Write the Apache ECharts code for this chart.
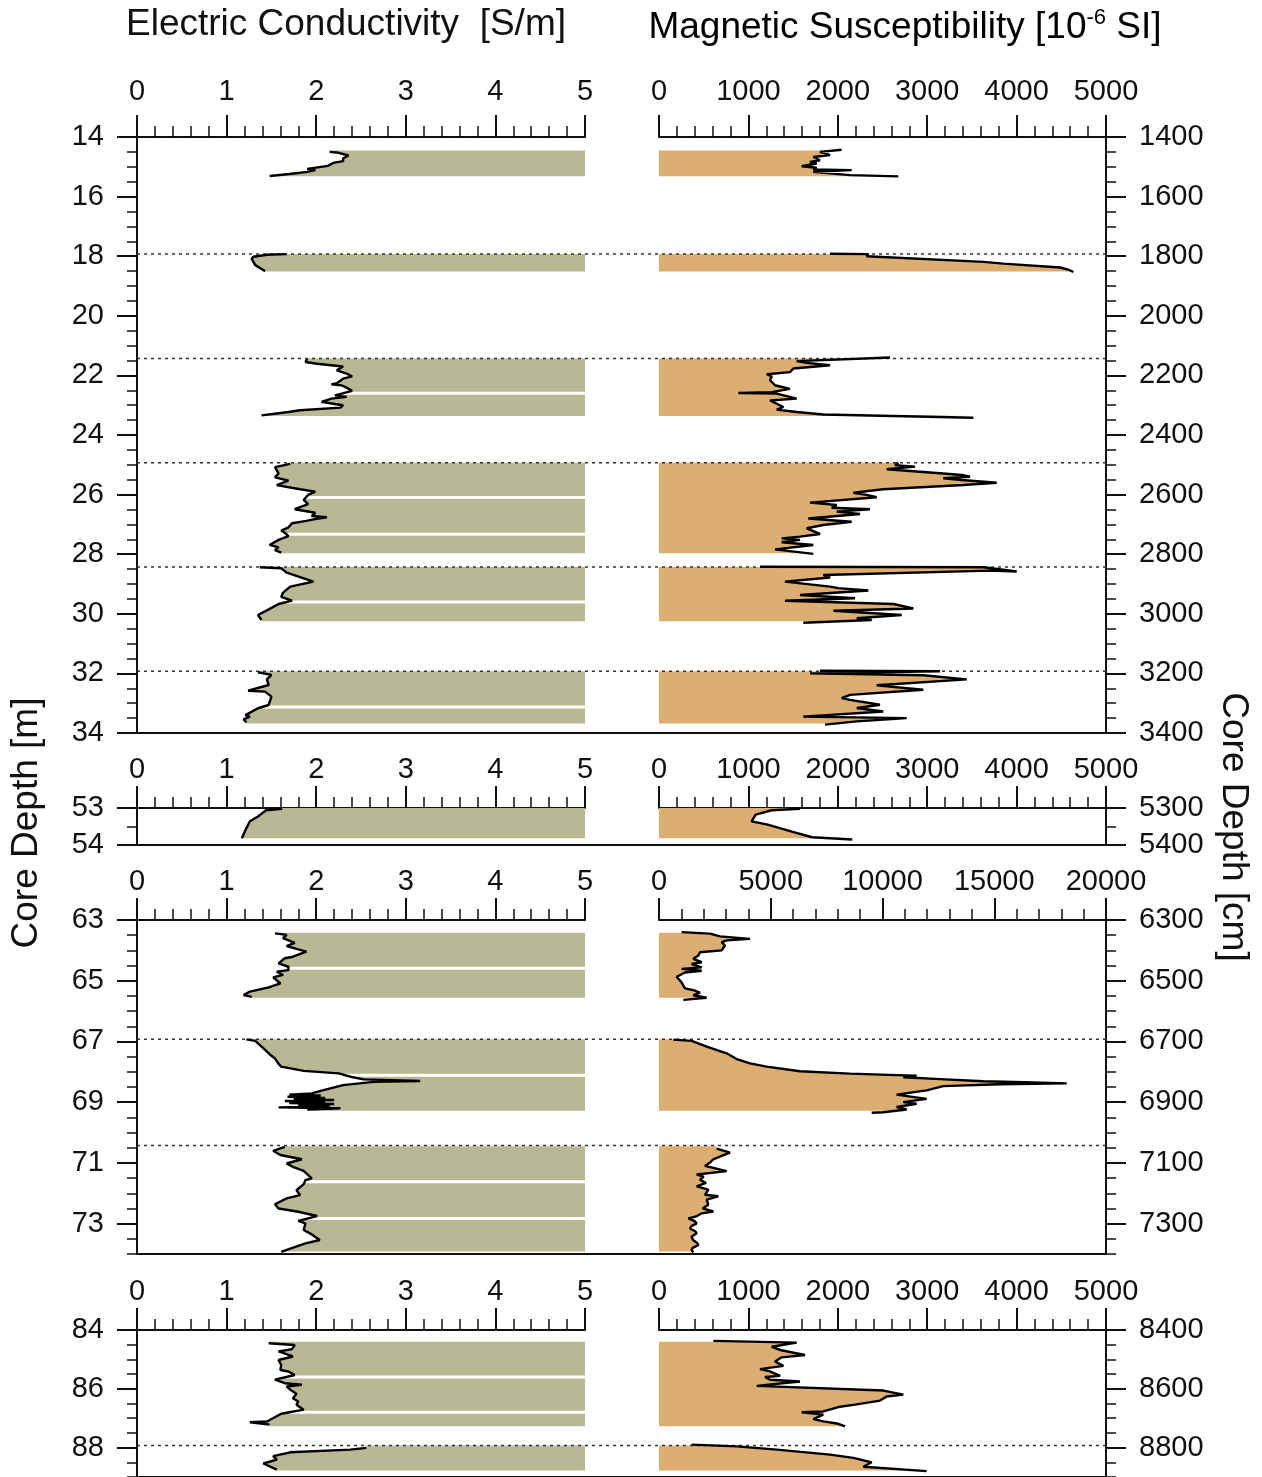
<!DOCTYPE html>
<html>
<head>
<meta charset="utf-8">
<script src="https://cdn.jsdelivr.net/npm/echarts@6/dist/echarts.min.js"></script>
<style>
  html, body { margin: 0; padding: 0; background: #fff; }
  #chart { width: 1262px; height: 1477px; }
</style>
</head>
<body>
<div id="chart"></div>
<script>
// ---------- tick values ----------
const ecTicks = [0, 1, 2, 3, 4, 5];
const msTicks5k = [0, 1000, 2000, 3000, 4000, 5000];
const msTicks20k = [0, 5000, 10000, 15000, 20000];
const depthTicks1 = [14, 16, 18, 20, 22, 24, 26, 28, 30, 32, 34];
const depthTicks2 = [53, 54];
const depthTicks3 = [63, 65, 67, 69, 71, 73];
const depthTicks4 = [84, 86, 88];

// ---------- core sections [top, bottom] in m ----------
const sections1 = [[14.45, 15.32], [17.93, 18.51], [21.43, 23.36], [24.93, 27.97], [28.43, 30.25], [31.93, 33.68]];
const sections2 = [[53.00, 53.82]];
const sections3 = [[63.42, 65.56], [66.93, 69.28], [70.45, 73.92]];
const sections4 = [[84.40, 87.27], [87.93, 88.78]];

// drive boundaries (dotted) and section cuts in the conductivity log (m)
const driveBounds = [17.93, 21.43, 24.93, 28.43, 31.93, 66.93, 70.43, 87.93];
const ecBreaks = [22.60, 26.10, 27.33, 29.60, 33.13, 64.59, 68.11, 71.62, 72.83, 85.60, 86.80];

// ---------- electric conductivity [depth m, S/m] ----------
const ec1a = [[14.50, 2.15], [14.53, 2.25], [14.62, 2.36], [14.72, 2.30], [14.81, 2.30], [14.87, 2.19], [14.97, 2.13], [15.07, 1.90], [15.11, 1.99], [15.17, 1.90], [15.24, 1.70], [15.31, 1.48]];
const ec1b = [[17.93, 1.67], [17.95, 1.45], [18.02, 1.30], [18.09, 1.28], [18.30, 1.32], [18.43, 1.39], [18.50, 1.43]];
const ec1c = [[21.45, 1.90], [21.55, 1.88], [21.61, 2.01], [21.70, 2.30], [21.83, 2.23], [21.94, 2.34], [22.03, 2.40], [22.11, 2.30], [22.26, 2.23], [22.30, 2.17], [22.33, 2.28], [22.41, 2.34], [22.52, 2.40], [22.67, 2.21], [22.72, 2.34], [22.78, 2.17], [22.89, 2.06], [22.95, 2.19], [23.00, 2.30], [23.08, 2.27], [23.17, 1.82], [23.23, 1.69], [23.34, 1.39]];
const ec1d = [[24.97, 1.71], [25.08, 1.54], [25.29, 1.58], [25.42, 1.54], [25.53, 1.69], [25.68, 1.56], [25.82, 1.82], [25.90, 1.99], [26.01, 1.91], [26.18, 1.86], [26.32, 1.91], [26.49, 1.76], [26.61, 1.99], [26.72, 1.95], [26.76, 2.12], [26.83, 1.97], [26.88, 1.89], [26.96, 1.73], [27.10, 1.69], [27.21, 1.61], [27.28, 1.65], [27.39, 1.69], [27.52, 1.58], [27.69, 1.48], [27.77, 1.58], [27.86, 1.54], [27.95, 1.61]];
const ec1e = [[28.44, 1.37], [28.47, 1.61], [28.62, 1.67], [28.92, 1.97], [29.09, 1.71], [29.29, 1.63], [29.43, 1.61], [29.56, 1.73], [29.67, 1.58], [29.85, 1.47], [30.04, 1.35], [30.21, 1.39]];
const ec1f = [[31.96, 1.35], [32.05, 1.50], [32.20, 1.45], [32.39, 1.47], [32.58, 1.24], [32.61, 1.43], [32.78, 1.50], [33.06, 1.47], [33.17, 1.35], [33.40, 1.21], [33.45, 1.26], [33.54, 1.19], [33.65, 1.22]];
const ec2 = [[53.02, 1.62], [53.06, 1.44], [53.23, 1.35], [53.36, 1.26], [53.55, 1.22], [53.82, 1.17]];
const ec3a = [[63.44, 1.54], [63.49, 1.67], [63.60, 1.63], [63.75, 1.76], [63.86, 1.67], [64.04, 1.89], [64.21, 1.74], [64.26, 1.65], [64.43, 1.58], [64.54, 1.69], [64.65, 1.69], [64.70, 1.56], [64.81, 1.63], [64.89, 1.52], [65.09, 1.60], [65.22, 1.47], [65.36, 1.26], [65.47, 1.19], [65.53, 1.28]];
const ec3b = [[66.93, 1.22], [66.98, 1.32], [67.06, 1.35], [67.28, 1.43], [67.42, 1.48], [67.56, 1.54], [67.74, 1.58], [67.83, 1.61], [67.97, 1.86], [68.05, 2.25], [68.18, 2.41], [68.25, 2.53], [68.30, 3.16], [68.33, 2.64], [68.44, 2.30], [68.62, 2.06], [68.71, 1.95], [68.75, 1.70], [68.78, 2.05], [68.82, 1.68], [68.86, 2.10], [68.90, 1.75], [68.93, 2.20], [68.96, 1.65], [69.00, 2.10], [69.03, 1.70], [69.06, 2.20], [69.10, 1.80], [69.13, 2.15], [69.17, 1.58], [69.20, 2.27], [69.24, 1.90]];
const ec3c = [[70.47, 1.65], [70.60, 1.52], [70.74, 1.60], [70.88, 1.84], [71.02, 1.67], [71.13, 1.74], [71.26, 1.86], [71.51, 1.95], [71.57, 1.88], [71.70, 1.86], [71.90, 1.78], [72.06, 1.82], [72.17, 1.67], [72.36, 1.54], [72.50, 1.58], [72.61, 1.80], [72.75, 2.01], [72.91, 1.80], [72.99, 1.88], [73.21, 1.86], [73.32, 1.93], [73.54, 2.04], [73.65, 1.88], [73.82, 1.71], [73.93, 1.61]];
const ec4a = [[84.45, 1.47], [84.51, 1.76], [84.65, 1.73], [84.73, 1.58], [84.90, 1.74], [85.02, 1.58], [85.19, 1.61], [85.36, 1.60], [85.41, 1.69], [85.53, 1.76], [85.69, 1.54], [85.81, 1.65], [85.86, 1.84], [85.92, 1.67], [86.03, 1.71], [86.17, 1.78], [86.32, 1.74], [86.43, 1.80], [86.54, 1.78], [86.71, 1.86], [86.85, 1.61], [87.11, 1.45], [87.14, 1.26], [87.22, 1.48]];
const ec4b = [[88.01, 2.56], [88.07, 2.38], [88.16, 1.71], [88.29, 1.52], [88.41, 1.56], [88.54, 1.41], [88.75, 1.56]];

// ---------- magnetic susceptibility [depth m, 1e-6 SI] ----------
const ms1a = [[14.43, 2043], [14.50, 1801], [14.61, 1913], [14.67, 1726], [14.78, 1801], [14.84, 1689], [14.89, 1764], [14.98, 1596], [15.03, 1764], [15.09, 1726], [15.11, 2155], [15.17, 1726], [15.28, 2137], [15.32, 2677]];
const ms1b = [[17.92, 1913], [17.93, 2342], [18.00, 2323], [18.19, 3628], [18.25, 3851], [18.38, 4486], [18.45, 4579], [18.53, 4635]];
const ms1c = [[21.40, 2584], [21.52, 1540], [21.58, 1652], [21.66, 1913], [21.77, 1503], [21.89, 1465], [21.96, 1205], [22.03, 1261], [22.16, 1242], [22.33, 1298], [22.45, 1465], [22.56, 1261], [22.59, 887], [22.61, 1317], [22.78, 1540], [22.84, 1242], [22.95, 1317], [23.06, 1391], [23.15, 1317], [23.23, 1540], [23.31, 1838], [23.42, 3516]];
const ms1d = [[24.93, 2677], [25.01, 2640], [25.06, 2864], [25.15, 2547], [25.29, 3180], [25.34, 3386], [25.40, 3479], [25.45, 3180], [25.51, 3386], [25.60, 3777], [25.68, 3404], [25.82, 2509], [25.94, 2174], [26.01, 2323], [26.09, 2435], [26.27, 1689], [26.35, 1988], [26.44, 1932], [26.49, 2360], [26.57, 1988], [26.65, 2248], [26.80, 1670], [26.91, 2155], [27.02, 1838], [27.13, 1652], [27.32, 1801], [27.41, 1577], [27.47, 1372], [27.52, 1577], [27.60, 1372], [27.69, 1726], [27.84, 1298], [27.99, 1726]];
const ms1e = [[28.42, 1130], [28.44, 3628], [28.58, 4001], [28.55, 3703], [28.70, 1838], [28.78, 1913], [28.92, 1409], [29.09, 1913], [29.14, 2006], [29.22, 2342], [29.37, 1577], [29.48, 2193], [29.56, 1409], [29.67, 2621], [29.82, 2845], [29.90, 1950], [30.04, 2715], [30.15, 2212], [30.21, 2379], [30.30, 1614]];
const ms1f = [[31.91, 1801], [31.93, 3143], [32.00, 1689], [32.06, 2957], [32.20, 3442], [32.40, 2435], [32.55, 2957], [32.72, 2137], [32.83, 2044], [32.89, 2137], [33.05, 2472], [33.16, 2212], [33.28, 2509], [33.45, 1614], [33.50, 2771], [33.61, 2212], [33.72, 1857]];
const ms2 = [[53.02, 1577], [53.06, 1261], [53.18, 1081], [53.36, 1036], [53.45, 1216], [53.64, 1486], [53.79, 1712], [53.85, 2162]];
const ms3a = [[63.40, 1014], [63.45, 2282], [63.54, 2729], [63.62, 4071], [63.67, 3027], [63.73, 2803], [63.84, 2953], [64.00, 2803], [64.06, 1834], [64.17, 1760], [64.28, 1536], [64.39, 1909], [64.45, 1461], [64.56, 1909], [64.61, 1014], [64.67, 1909], [64.73, 1163], [64.87, 790], [65.06, 1014], [65.25, 1163], [65.31, 1536], [65.39, 1834], [65.48, 1536], [65.56, 2133], [65.63, 1089]];
const ms3b = [[66.94, 641], [66.98, 1461], [67.17, 2133], [67.39, 3027], [67.58, 3474], [67.72, 4071], [67.83, 4817], [67.98, 6308], [68.06, 8545], [68.11, 10633], [68.13, 11528], [68.18, 10931], [68.24, 12572], [68.31, 14510], [68.35, 16747], [68.38, 18239], [68.41, 15256], [68.47, 12720], [68.61, 11975], [68.75, 10633], [68.89, 11975], [69.00, 10931], [69.05, 11528], [69.16, 10633], [69.24, 11081], [69.33, 10035], [69.35, 9516]];
const ms3c = [[70.53, 2580], [70.66, 3176], [70.77, 2803], [70.88, 2431], [70.99, 2282], [71.10, 2058], [71.27, 3027], [71.38, 1685], [71.46, 2000], [71.55, 1834], [71.66, 2100], [71.77, 1685], [71.88, 2207], [72.05, 2058], [72.10, 2654], [72.21, 2133], [72.38, 2207], [72.50, 1950], [72.60, 2431], [72.66, 1909], [72.75, 1700], [72.83, 1312], [72.92, 1600], [72.99, 1685], [73.08, 1450], [73.16, 1387], [73.25, 1620], [73.32, 1685], [73.43, 1450], [73.55, 1536], [73.63, 1700], [73.71, 1760], [73.80, 1500], [73.88, 1461], [73.95, 1536]];
const ms4a = [[84.37, 608], [84.43, 1540], [84.57, 1261], [84.68, 1354], [84.85, 1633], [84.93, 1372], [85.07, 1298], [85.22, 1391], [85.33, 1130], [85.41, 1242], [85.56, 1354], [85.60, 1186], [85.69, 1242], [85.75, 1577], [85.90, 1093], [86.06, 2509], [86.20, 2733], [86.26, 2547], [86.40, 2472], [86.54, 2193], [86.62, 2006], [86.77, 1838], [86.80, 1596], [86.88, 1838], [87.03, 1726], [87.11, 1838], [87.19, 2006], [87.28, 2081]];
const ms4b = [[87.90, 365], [87.96, 869], [88.07, 1317], [88.24, 1913], [88.35, 2174], [88.50, 2379], [88.65, 2286], [88.80, 2994]];

// ---------- layout & styling ----------
const TICK_FONT = "'Liberation Sans', Arial, sans-serif";
const TITLE_FONT = "'Liberation Sans', Arial, sans-serif";
const INK = '#111';
const EC_FILL = '#b8b894';
const MS_FILL = '#dcae72';
const EC_MAX = 5;

const rows = [
  { top: 137, height: 596, dmin: 14, dmax: 34, dTicks: depthTicks1, msMax: 5000, msTicks: msTicks5k, labelMargin: 31,
    sections: sections1, ec: [ec1a, ec1b, ec1c, ec1d, ec1e, ec1f], ms: [ms1a, ms1b, ms1c, ms1d, ms1e, ms1f] },
  { top: 808, height: 37, dmin: 53, dmax: 54, dTicks: depthTicks2, msMax: 5000, msTicks: msTicks5k, labelMargin: 24,
    sections: sections2, ec: [ec2], ms: [ms2] },
  { top: 920, height: 334, dmin: 63, dmax: 74, dTicks: depthTicks3, msMax: 20000, msTicks: msTicks20k, labelMargin: 24,
    sections: sections3, ec: [ec3a, ec3b, ec3c], ms: [ms3a, ms3b, ms3c] },
  { top: 1330, height: 147.5, dmin: 84, dmax: 89, dTicks: depthTicks4, msMax: 5000, msTicks: msTicks5k, labelMargin: 24,
    sections: sections4, ec: [ec4a, ec4b], ms: [ms4a, ms4b] }
];

const grid = [], xAxis = [], yAxis = [], series = [];

function range(a, b, step) {
  const out = [];
  for (let v = a; v <= b + 1e-9; v += step) out.push(+v.toFixed(6));
  return out;
}

function addXPair(gi, max, majors, margin) {
  const minorStep = (majors[1] - majors[0]) / 5;
  const base = { type: 'value', gridIndex: gi, position: 'top', min: 0, max: max, splitLine: { show: false } };
  xAxis.push(Object.assign({}, base, {
    axisLine: { show: true, onZero: false, lineStyle: { color: INK, width: 2 } },
    axisTick: { show: true, length: 22, customValues: majors, lineStyle: { color: INK, width: 2 } },
    axisLabel: { show: true, customValues: majors, margin: margin, color: INK, fontSize: 29, fontFamily: TICK_FONT,
      formatter: v => String(v) }
  }));
  xAxis.push(Object.assign({}, base, {
    axisLine: { show: false, onZero: false },
    axisTick: { show: true, length: 11, customValues: range(0, max, minorStep), lineStyle: { color: INK, width: 1.5 } },
    axisLabel: { show: false }
  }));
  return xAxis.length - 2;
}

function addYPair(gi, row, side, formatter) {
  const base = { type: 'value', gridIndex: gi, position: side, inverse: true, min: row.dmin, max: row.dmax, splitLine: { show: false } };
  yAxis.push(Object.assign({}, base, {
    axisLine: { show: true, onZero: false, lineStyle: { color: INK, width: 2 } },
    axisTick: { show: true, length: 20, customValues: row.dTicks, lineStyle: { color: INK, width: 2 } },
    axisLabel: { show: true, customValues: row.dTicks, margin: 33, color: INK, fontSize: 29, fontFamily: TICK_FONT, formatter: formatter }
  }));
  yAxis.push(Object.assign({}, base, {
    axisLine: { show: false, onZero: false },
    axisTick: { show: true, length: 10, customValues: range(row.dmin, row.dmax, 0.5), lineStyle: { color: INK, width: 1.5 } },
    axisLabel: { show: false }
  }));
  return yAxis.length - 2;
}

// polygon between a log curve and a fixed edge value, clipped to the section
function fillPolygon(curve, sec, edge) {
  const pts = curve.map(p => [p[1], Math.min(Math.max(p[0], sec[0]), sec[1])]);
  return [[edge, sec[0]], [pts[0][0], sec[0]]].concat(pts, [[pts[pts.length - 1][0], sec[1]], [edge, sec[1]]]);
}

function fillSeries(xi, yi, poly, color) {
  return {
    type: 'custom', xAxisIndex: xi, yAxisIndex: yi, silent: true, animation: false, z: 1,
    data: [poly[0]],
    renderItem: function (params, api) {
      return { type: 'polygon', shape: { points: poly.map(p => api.coord(p)) }, style: { fill: color } };
    }
  };
}

function curveSeries(xi, yi, curve) {
  return {
    type: 'line', xAxisIndex: xi, yAxisIndex: yi, silent: true, animation: false, z: 4,
    symbol: 'none', showSymbol: false,
    data: curve.map(p => [p[1], p[0]]),
    lineStyle: { color: '#000', width: 2.4 }
  };
}

// value of a log at a given depth (linear between samples)
function valueAt(curve, d) {
  for (let i = 0; i < curve.length - 1; i++) {
    const a = curve[i], b = curve[i + 1];
    if ((a[0] - d) * (b[0] - d) <= 0 && a[0] !== b[0]) {
      return a[1] + (b[1] - a[1]) * (d - a[0]) / (b[0] - a[0]);
    }
  }
  return curve[0][1];
}

rows.forEach(function (row) {
  // conductivity column
  const gL = grid.length;
  grid.push({ left: 137, top: row.top, width: 448, height: row.height });
  const xL = addXPair(gL, EC_MAX, ecTicks, row.labelMargin);
  const yL = addYPair(gL, row, 'left', v => String(v));

  // susceptibility column
  const gR = grid.length;
  grid.push({ left: 659, top: row.top, width: 447, height: row.height });
  const xR = addXPair(gR, row.msMax, row.msTicks, row.labelMargin);
  const yR = addYPair(gR, row, 'right', v => String(Math.round(v * 100)));

  // full-width frame: bottom rule and drive boundaries
  const gF = grid.length;
  grid.push({ left: 137, top: row.top, width: 969, height: row.height });
  xAxis.push({ type: 'value', gridIndex: gF, position: 'bottom', min: 0, max: 1,
    axisLine: { show: true, onZero: false, lineStyle: { color: INK, width: 2 } },
    axisTick: { show: false }, axisLabel: { show: false }, splitLine: { show: false } });
  yAxis.push({ type: 'value', gridIndex: gF, inverse: true, min: row.dmin, max: row.dmax, show: false });
  const xF = xAxis.length - 1, yF = yAxis.length - 1;

  row.sections.forEach(function (sec, i) {
    series.push(fillSeries(xL, yL, fillPolygon(row.ec[i], sec, EC_MAX), EC_FILL));
    series.push(fillSeries(xR, yR, fillPolygon(row.ms[i], sec, 0), MS_FILL));

    const cuts = ecBreaks.filter(d => d > sec[0] && d < sec[1]).map(d => [valueAt(row.ec[i], d), d]);
    if (cuts.length) {
      series.push({
        type: 'custom', xAxisIndex: xL, yAxisIndex: yL, silent: true, animation: false, z: 2,
        data: cuts,
        renderItem: function (params, api) {
          const a = api.coord([api.value(0), api.value(1)]);
          const b = api.coord([EC_MAX, api.value(1)]);
          return { type: 'line', shape: { x1: a[0], y1: a[1], x2: b[0], y2: b[1] }, style: { stroke: '#fff', lineWidth: 3 } };
        }
      });
    }
    series.push(curveSeries(xL, yL, row.ec[i]));
    series.push(curveSeries(xR, yR, row.ms[i]));
  });

  driveBounds.filter(d => d > row.dmin && d < row.dmax).forEach(function (d) {
    series.push({
      type: 'line', xAxisIndex: xF, yAxisIndex: yF, silent: true, animation: false, z: 3,
      symbol: 'none', data: [[0, d], [1, d]],
      lineStyle: { color: '#333', width: 1.5, type: [3, 4] }
    });
  });
});

const titleStyle = { font: '37px ' + TITLE_FONT, fill: INK, align: 'center', verticalAlign: 'middle', textAlign: 'center', textVerticalAlign: 'middle' };

const chart = echarts.init(document.getElementById('chart'), null, { renderer: 'canvas' });
chart.setOption({
  backgroundColor: '#fff',
  animation: false,
  grid: grid,
  xAxis: xAxis,
  yAxis: yAxis,
  series: series,
  graphic: [
    { type: 'text', x: 346, y: 25, style: Object.assign({ text: 'Electric Conductivity  [S/m]' }, titleStyle) },
    { type: 'text', x: 905, y: 25, style: {
        text: '{n|Magnetic Susceptibility [10}{s|-6}{n| SI]}',
        rich: {
          n: { fontSize: 37, fontFamily: TITLE_FONT, color: INK, verticalAlign: 'bottom', lineHeight: 42 },
          s: { fontSize: 22, fontFamily: TITLE_FONT, color: INK, verticalAlign: 'bottom', lineHeight: 42, padding: [0, 0, 17, 0] }
        },
        align: 'center', verticalAlign: 'middle', textAlign: 'center', textVerticalAlign: 'middle' } },
    { type: 'text', x: 27, y: 823, rotation: Math.PI / 2, style: Object.assign({ text: 'Core Depth [m]' }, titleStyle) },
    { type: 'text', x: 1233, y: 827, rotation: -Math.PI / 2, style: Object.assign({ text: 'Core Depth [cm]' }, titleStyle) }
  ]
});
</script>
</body>
</html>
